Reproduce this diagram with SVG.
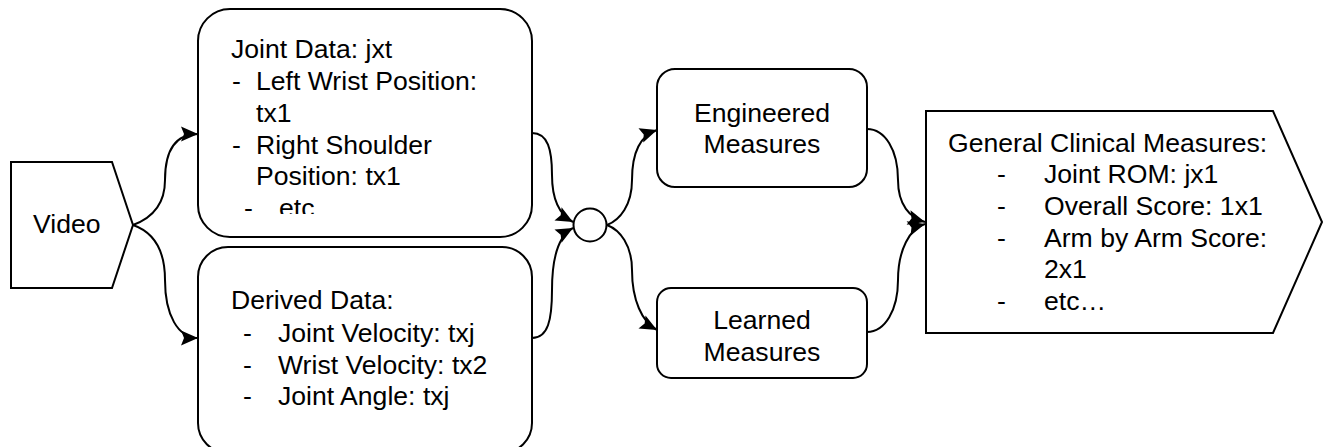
<svg xmlns="http://www.w3.org/2000/svg" width="1323" height="447" viewBox="0 0 1323 447">
  <style>
    .shape { fill: #ffffff; stroke: #000000; stroke-width: 2; }
    .edge { fill: none; stroke: #000000; stroke-width: 2; marker-end: url(#arrow); }
    text { font-family: "Liberation Sans", Arial, Helvetica, sans-serif; font-size: 26.6px; fill: #000000; }
    .mid { text-anchor: middle; }
  </style>
  <defs>
    <marker id="arrow" markerUnits="userSpaceOnUse" markerWidth="20" markerHeight="18" refX="17" refY="7.5" orient="auto" overflow="visible">
      <path d="M0,0 L17,7.5 L0,15 L3,7.5 Z" fill="#000000"/>
    </marker>
    <clipPath id="jointClip">
      <rect x="198" y="9" width="334" height="205"/>
    </clipPath>
  </defs>

  <!-- connectors -->
  <g id="connectors">
    <path class="edge" d="M133,225 C152,218 165,205 165,180 C165,150 175,134 198,134"/>
    <path class="edge" d="M133,225 C153,232 165,250 165,280 C165,315 178,338 198,338"/>
    <path class="edge" d="M532,133 C548,133 552,150 552,175 C552,200 560,215 573,222"/>
    <path class="edge" d="M532,338 C548,338 552,320 552,290 C552,255 560,235 573,228"/>
    <path class="edge" d="M607,225 C620,220 632,205 632,180 C632,150 642,135 657,130"/>
    <path class="edge" d="M607,225 C620,230 632,245 632,270 C632,300 642,322 657,330"/>
    <path class="edge" d="M867,129 C885,129 898,150 898,180 C898,205 910,218 925,222"/>
    <path class="edge" d="M867,332 C885,332 898,310 898,280 C898,250 910,228 925,224"/>
  </g>

  <!-- input -->
  <g id="video">
    <polygon class="shape" points="11,162 112,162 133,225 112,288 11,288"/>
    <text x="33" y="233">Video</text>
  </g>

  <!-- joint data -->
  <g id="joint-data">
    <rect class="shape" x="198" y="9" width="334" height="228" rx="32" ry="32"/>
    <g clip-path="url(#jointClip)">
      <text x="231" y="58">Joint Data: jxt</text>
      <text x="232" y="90">-</text>
      <text x="256" y="90">Left Wrist Position:</text>
      <text x="256" y="122">tx1</text>
      <text x="232" y="154">-</text>
      <text x="256" y="154">Right Shoulder</text>
      <text x="256" y="185">Position: tx1</text>
      <text x="244" y="217">-</text>
      <text x="279" y="217">etc</text>
    </g>
  </g>

  <!-- derived data -->
  <g id="derived-data">
    <rect class="shape" x="198" y="247" width="334" height="206" rx="30" ry="30"/>
    <text x="231" y="309">Derived Data:</text>
    <text x="243" y="342">-</text>
    <text x="278" y="342">Joint Velocity: txj</text>
    <text x="243" y="374">-</text>
    <text x="278" y="374">Wrist Velocity: tx2</text>
    <text x="243" y="405">-</text>
    <text x="278" y="405">Joint Angle: txj</text>
  </g>

  <!-- merge point -->
  <g id="merge">
    <circle class="shape" cx="590" cy="225" r="16.5"/>
  </g>

  <!-- measures -->
  <g id="engineered">
    <rect class="shape" x="657" y="69" width="210" height="118" rx="18" ry="18"/>
    <text class="mid" x="762" y="122">Engineered</text>
    <text class="mid" x="762" y="153">Measures</text>
  </g>

  <g id="learned">
    <rect class="shape" x="657" y="288" width="210" height="90" rx="14" ry="14"/>
    <text class="mid" x="762" y="329">Learned</text>
    <text class="mid" x="762" y="361">Measures</text>
  </g>

  <!-- output -->
  <g id="clinical">
    <polygon class="shape" points="926,111 1273,111 1322,222 1273,333 926,333"/>
    <text x="948" y="152">General Clinical Measures:</text>
    <text x="997" y="183">-</text>
    <text x="1044" y="183">Joint ROM: jx1</text>
    <text x="997" y="215">-</text>
    <text x="1044" y="215">Overall Score: 1x1</text>
    <text x="997" y="247">-</text>
    <text x="1044" y="247">Arm by Arm Score:</text>
    <text x="1044" y="278">2x1</text>
    <text x="997" y="310">-</text>
    <text x="1044" y="310">etc…</text>
  </g>
</svg>
